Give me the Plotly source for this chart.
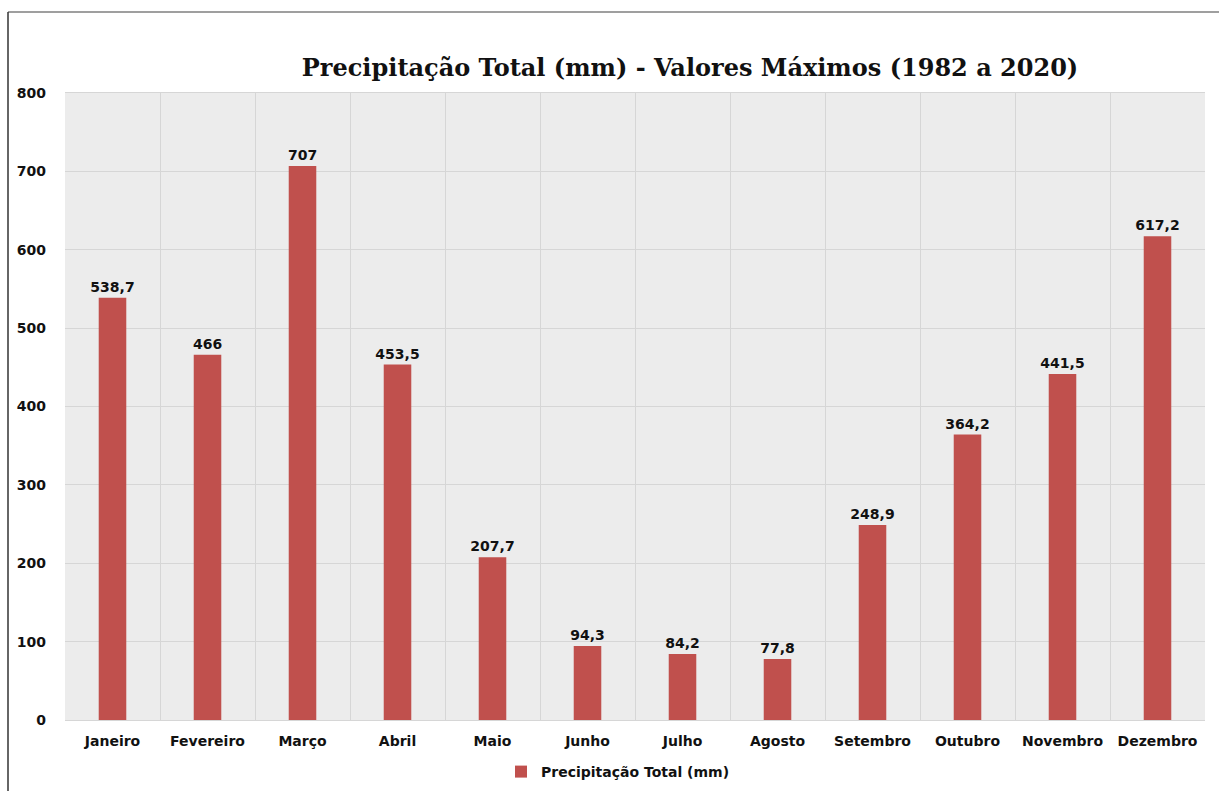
import plotly.graph_objects as go

months = ["Janeiro", "Fevereiro", "Março", "Abril", "Maio", "Junho",
          "Julho", "Agosto", "Setembro", "Outubro", "Novembro", "Dezembro"]
values = [538.7, 466, 707, 453.5, 207.7, 94.3, 84.2, 77.8, 248.9, 364.2, 441.5, 617.2]
y_ticks = [0, 100, 200, 300, 400, 500, 600, 700, 800]
series_name = "Precipitação Total (mm)"
title_text = "Precipitação Total (mm) - Valores Máximos (1982 a 2020)"

labels = [f"{v:g}".replace(".", ",") for v in values]

W, H = 1219, 791
ML, MR, MT, MB = 65, 14, 93, 71
PW, PH = W - ML - MR, H - MT - MB

SANS = "DejaVu Sans"

fig = go.Figure()
fig.add_trace(go.Bar(
    x=months, y=values, name=series_name,
    marker=dict(color="#c0504d", line=dict(width=0)),
    width=0.29,
    text=labels, textposition="outside", cliponaxis=False, constraintext="none",
    textfont=dict(family=SANS, size=14, color="#111111", weight="bold"),
    showlegend=True,
))

fig.update_layout(
    width=W, height=H,
    margin=dict(l=ML, r=MR, t=MT, b=MB, autoexpand=False),
    paper_bgcolor="white",
    plot_bgcolor="#ececec",
    title=dict(text="<b>" + title_text + "</b>", x=(690 - ML) / PW, xanchor="center",
               xref="paper", y=1 - 68 / H, yanchor="middle",
               font=dict(family="DejaVu Serif", size=24, color="#111111")),
    legend=dict(orientation="h", x=(618 - ML) / PW, xanchor="center",
                y=-(772 - (H - MB)) / PH, yanchor="middle",
                font=dict(family=SANS, size=14, color="#111111", weight="bold"),
                itemwidth=30),
    showlegend=True,
)
fig.update_xaxes(
    type="category", tickson="boundaries", ticklen=0,
    showgrid=True, gridcolor="#d6d6d6", gridwidth=1,
    showline=True, linecolor="#d6d6d6", mirror=True,
    tickfont=dict(family=SANS, size=14, color="#111111", weight="bold"),
    ticklabelstandoff=8,
)
fig.update_yaxes(
    range=[0, 800], tickvals=y_ticks, ticktext=[str(t) for t in y_ticks],
    showgrid=True, gridcolor="#d6d6d6", gridwidth=1,
    zeroline=False, showline=False,
    tickfont=dict(family=SANS, size=14, color="#111111", weight="bold"),
    ticklabelstandoff=18,
)

# outer frame (top and left edges of the original image border)
fy = (H - MB - 12) / PH
fx = (8 - ML) / PW
fig.add_shape(type="line", xref="paper", yref="paper",
              x0=fx, x1=(W + 20 - ML) / PW, y0=fy, y1=fy,
              line=dict(color="#7f7f7f", width=1.5))
fig.add_shape(type="line", xref="paper", yref="paper",
              x0=fx, x1=fx, y0=fy, y1=(-MB - 20) / PH,
              line=dict(color="#333333", width=1.5))

fig.write_html("out.html", config={"displayModeBar": False},
               post_script="document.body.style.margin='0';document.body.style.overflow='hidden';")
